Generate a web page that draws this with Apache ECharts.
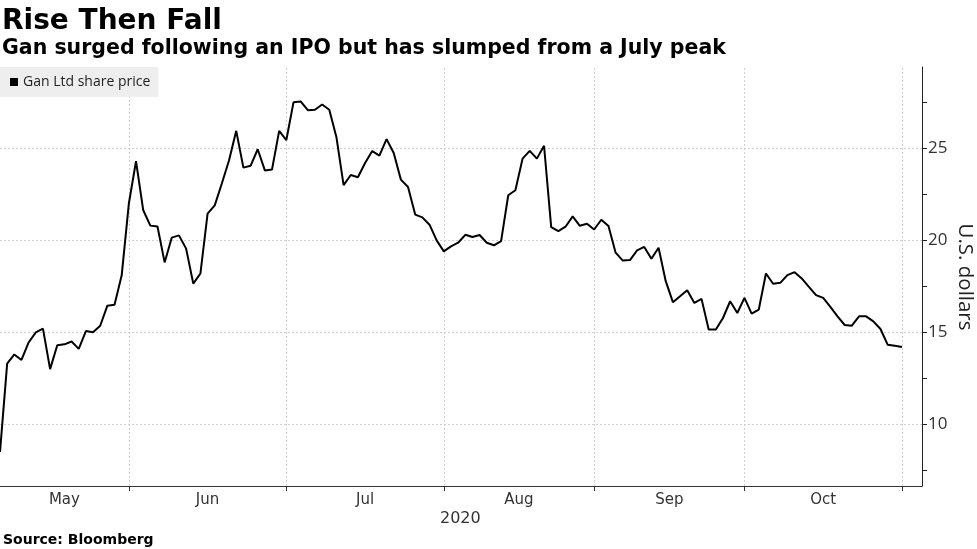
<!DOCTYPE html>
<html>
<head>
<meta charset="utf-8">
<script src="https://cdn.jsdelivr.net/npm/echarts@6/dist/echarts.min.js"></script>
<style>
html,body{margin:0;padding:0;background:#fff;}
#chart{width:977px;height:549px;}
</style>
</head>
<body>
<div id="chart"></div>
<script>
// Gan Ltd share price, one value per trading day from 5 May 2020 to 2 Nov 2020
const prices = [
  8.5, 13.3, 13.8, 13.5, 14.45, 15.0, 15.2, 13.0, 14.3, 14.35,
  14.5, 14.1, 15.07, 15.0, 15.36, 16.45, 16.5, 18.1, 22.0, 24.3,
  21.65, 20.8, 20.75, 18.8, 20.15, 20.27, 19.55, 17.65, 18.2, 21.45,
  21.9, 23.1, 24.35, 25.95, 23.95, 24.05, 24.95, 23.8, 23.85, 25.95,
  25.45, 27.5, 27.55, 27.07, 27.1, 27.38, 27.1, 25.6, 23.0, 23.55,
  23.43, 24.2, 24.85, 24.6, 25.5, 24.75, 23.3, 22.9, 21.4, 21.25,
  20.85, 20.0, 19.4, 19.67, 19.87, 20.3, 20.18, 20.29, 19.87, 19.73,
  19.96, 22.45, 22.72, 24.44, 24.86, 24.44, 25.14, 20.72, 20.5, 20.74,
  21.3, 20.79, 20.9, 20.59, 21.12, 20.78, 19.33, 18.9, 18.93, 19.45,
  19.64, 19.0, 19.6, 17.78, 16.64, 16.96, 17.29, 16.6, 16.82, 15.15,
  15.15, 15.78, 16.69, 16.05, 16.87, 16.02, 16.24, 18.2, 17.64, 17.69,
  18.11, 18.27, 17.93, 17.47, 17.02, 16.87, 16.38, 15.87, 15.4, 15.36,
  15.87, 15.87, 15.6, 15.18, 14.33, 14.27, 14.2
];
// month names and the trading-day index where each month starts (last = Nov 2)
const monthNames = ['May', 'Jun', 'Jul', 'Aug', 'Sep', 'Oct'];
const monthStarts = [0, 18, 40, 62, 83, 104, 126];
const yLabelValues = [10, 15, 20, 25];
const yTickValues = [7.5, 10, 12.5, 15, 17.5, 20, 22.5, 25, 27.5];

const monthMids = monthNames.map((m, i) => (monthStarts[i] + monthStarts[i + 1]) / 2);
const monthTicks = monthStarts.slice(1);
const seriesData = prices.map((v, i) => [i, v]);

const gridLine = { color: '#cfcfcf', type: [2, 2], width: 1 };

const chart = echarts.init(document.getElementById('chart'));
chart.setOption({
  animation: false,
  backgroundColor: '#fff',
  title: [
    { text: 'Rise Then Fall', left: 2, top: 8, padding: 0,
      textStyle: { fontFamily: 'DejaVu Sans', fontWeight: 'bold', fontSize: 28, color: '#000' } },
    { text: 'Gan surged following an IPO but has slumped from a July peak', left: 2, top: 38, padding: 0,
      textStyle: { fontFamily: 'DejaVu Sans', fontWeight: 'bold', fontSize: 20.5, color: '#000' } },
    { text: 'Source: Bloomberg', left: 3, top: 533, padding: 0,
      textStyle: { fontFamily: 'DejaVu Sans', fontWeight: 'bold', fontSize: 14, color: '#000' } }
  ],
  graphic: [
    { type: 'text', left: 440, top: 511,
      style: { text: '2020', fontFamily: 'DejaVu Sans', fontSize: 16, fill: '#333' } },
    { type: 'text', x: 965, y: 277, rotation: -Math.PI / 2,
      style: { text: 'U.S. dollars', fontFamily: 'Open Sans', fontSize: 20.5, fill: '#222',
               align: 'center', verticalAlign: 'middle' } }
  ],
  legend: {
    left: 0, top: 67,
    padding: [8, 8, 8, 10],
    backgroundColor: '#eeeeee',
    icon: 'rect',
    itemWidth: 8, itemHeight: 8, itemGap: 10,
    textStyle: { fontFamily: 'Open Sans', fontSize: 14, color: '#222' },
    data: ['Gan Ltd share price']
  },
  grid: { left: 0, right: 55, top: 67, bottom: 63, containLabel: false, outerBoundsMode: 'none' },
  xAxis: {
    type: 'value',
    min: 0, max: 128.8,
    axisLine: { show: true, onZero: false, lineStyle: { color: '#333', width: 1 } },
    axisTick: { show: true, length: 5, customValues: monthTicks, lineStyle: { color: '#333' } },
    axisLabel: {
      customValues: monthMids,
      formatter: v => {
        const k = monthMids.indexOf(v);
        return k >= 0 ? monthNames[k] : '';
      },
      fontFamily: 'DejaVu Sans', fontSize: 15, color: '#333', margin: 7
    },
    splitLine: { show: false }
  },
  yAxis: {
    type: 'value',
    position: 'right',
    min: 6.65, max: 29.42,
    axisLine: { show: true, onZero: false, lineStyle: { color: '#222', width: 1 } },
    axisTick: { show: true, length: 5, customValues: yTickValues, lineStyle: { color: '#222' } },
    axisLabel: { customValues: yLabelValues, fontFamily: 'Open Sans', fontSize: 17, color: '#333', margin: 6 },
    splitLine: { show: false }
  },
  series: [{
    name: 'Gan Ltd share price',
    type: 'line',
    data: seriesData,
    showSymbol: false,
    symbol: 'none',
    lineStyle: { color: '#000', width: 2 },
    itemStyle: { color: '#000' },
    z: 5,
    markLine: {
      silent: true,
      symbol: 'none',
      label: { show: false },
      lineStyle: gridLine,
      z: 1,
      data: yLabelValues.map(v => ({ yAxis: v })).concat(monthTicks.map(v => ({ xAxis: v })))
    }
  }]
});
</script>
</body>
</html>
